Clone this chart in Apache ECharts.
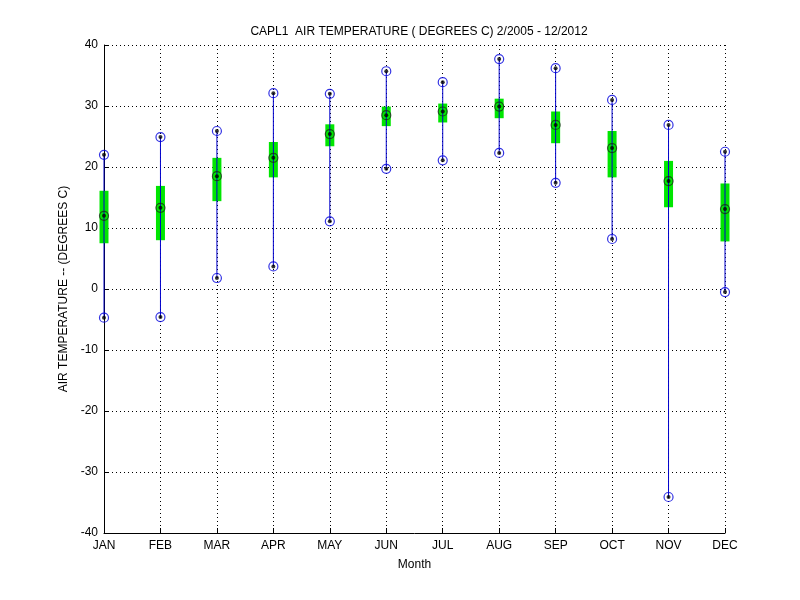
<!DOCTYPE html>
<html lang="en">
<head>
    <meta charset="UTF-8">
    <title>CAPL1 air temperature</title>
    <script src="https://cdn.jsdelivr.net/npm/echarts@6/dist/echarts.min.js"></script>
    <style>
        html, body { margin: 0; padding: 0; background: #fff; }
        #chart { width: 800px; height: 600px; }
    </style>
</head>
<body>
    <div id="chart"></div>
    <script>
        // monthly stats
        var months = ['JAN', 'FEB', 'MAR', 'APR', 'MAY', 'JUN', 'JUL', 'AUG', 'SEP', 'OCT', 'NOV', 'DEC'];
        var minVals = [-4.7, -4.6, 1.8, 3.7, 11.1, 19.7, 21.1, 22.3, 17.4, 8.2, -34.1, -0.5];
        var q1Vals = [7.5, 8.0, 14.4, 18.3, 23.4, 26.7, 27.3, 28.0, 23.9, 18.3, 13.4, 7.8];
        var medVals = [12.0, 13.3, 18.5, 21.5, 25.4, 28.5, 29.1, 29.9, 26.9, 23.1, 17.7, 13.1];
        var q3Vals = [16.1, 16.9, 21.5, 24.1, 27.0, 29.9, 30.4, 31.2, 29.1, 25.9, 21.0, 17.3];
        var maxVals = [22.0, 24.9, 25.9, 32.1, 32.0, 35.7, 33.9, 37.7, 36.2, 31.0, 26.9, 22.5];
        var yTicks = [-40, -30, -20, -10, 0, 10, 20, 30, 40];

        var boxData = [], rangeData = [], endData = [], medData = [];
        for (var i = 0; i < months.length; i++) {
            boxData.push([i, q1Vals[i], q3Vals[i]]);
            rangeData.push([i, minVals[i], maxVals[i]]);
            endData.push([i, minVals[i]]);
            endData.push([i, maxVals[i]]);
            medData.push([i, medVals[i]]);
        }
        var allPts = endData.concat(medData);

        var myChart = echarts.init(document.getElementById('chart'));
        var fontFam = 'Liberation Sans, Arial, sans-serif';

        var option = {
            animation: false,
            backgroundColor: '#fff',
            title: {
                text: 'CAPL1  AIR TEMPERATURE ( DEGREES C) 2/2005 - 12/2012',
                left: 414,
                textAlign: 'center',
                top: 21,
                textStyle: { fontSize: 12, fontWeight: 'normal', color: '#000', fontFamily: fontFam }
            },
            grid: { left: 104, right: 75, top: 45, bottom: 67 },
            xAxis: {
                type: 'category',
                data: months,
                boundaryGap: false,
                name: 'Month',
                nameLocation: 'middle',
                nameGap: 26,
                nameTextStyle: { fontSize: 12, color: '#000', fontFamily: fontFam },
                axisLine: { onZero: false, lineStyle: { color: '#000', width: 1 } },
                axisTick: { inside: true, length: 5, lineStyle: { color: '#000' } },
                axisLabel: { color: '#000', fontSize: 12, margin: 7, fontFamily: fontFam, interval: 0 },
                splitLine: { show: true, lineStyle: { color: '#000', type: [1, 3], width: 1 } }
            },
            yAxis: {
                type: 'value',
                min: yTicks[0],
                max: yTicks[yTicks.length - 1],
                interval: 10,
                name: 'AIR TEMPERATURE -- (DEGREES C)',
                nameLocation: 'middle',
                nameGap: 33,
                nameTextStyle: { fontSize: 12, color: '#000', fontFamily: fontFam },
                axisLine: { show: true, lineStyle: { color: '#000', width: 1 } },
                axisTick: { show: true, inside: true, length: 5, lineStyle: { color: '#000' } },
                axisLabel: { color: '#000', fontSize: 12, margin: 6, fontFamily: fontFam },
                splitLine: { show: true, lineStyle: { color: '#000', type: [1, 3], width: 1 } }
            },
            series: [
                {
                    // green interquartile boxes
                    type: 'custom',
                    data: boxData,
                    z: 2,
                    renderItem: function (params, api) {
                        var lo = api.coord([api.value(0), api.value(1)]);
                        var hi = api.coord([api.value(0), api.value(2)]);
                        return {
                            type: 'rect',
                            shape: { x: lo[0] - 4.5, y: hi[1], width: 9, height: lo[1] - hi[1] },
                            style: { fill: '#00e600' }
                        };
                    }
                },
                {
                    // blue min-max lines
                    type: 'custom',
                    data: rangeData,
                    z: 3,
                    renderItem: function (params, api) {
                        var lo = api.coord([api.value(0), api.value(1)]);
                        var hi = api.coord([api.value(0), api.value(2)]);
                        return {
                            type: 'line',
                            shape: { x1: lo[0], y1: lo[1], x2: hi[0], y2: hi[1] },
                            style: { stroke: '#0000cc', lineWidth: 1 }
                        };
                    }
                },
                {
                    type: 'scatter',
                    data: endData,
                    z: 4,
                    symbol: 'circle',
                    symbolSize: 9,
                    itemStyle: { color: 'rgba(0,0,0,0)', borderColor: '#0000dd', borderWidth: 1.2 }
                },
                {
                    type: 'scatter',
                    data: medData,
                    z: 4,
                    symbol: 'circle',
                    symbolSize: 9,
                    itemStyle: { color: 'rgba(0,0,0,0)', borderColor: '#1a2a1a', borderWidth: 1.2 }
                },
                {
                    type: 'scatter',
                    data: allPts,
                    z: 5,
                    symbol: 'circle',
                    symbolSize: 4,
                    itemStyle: { color: '#000' }
                }
            ]
        };

        myChart.setOption(option);
    </script>
</body>
</html>
